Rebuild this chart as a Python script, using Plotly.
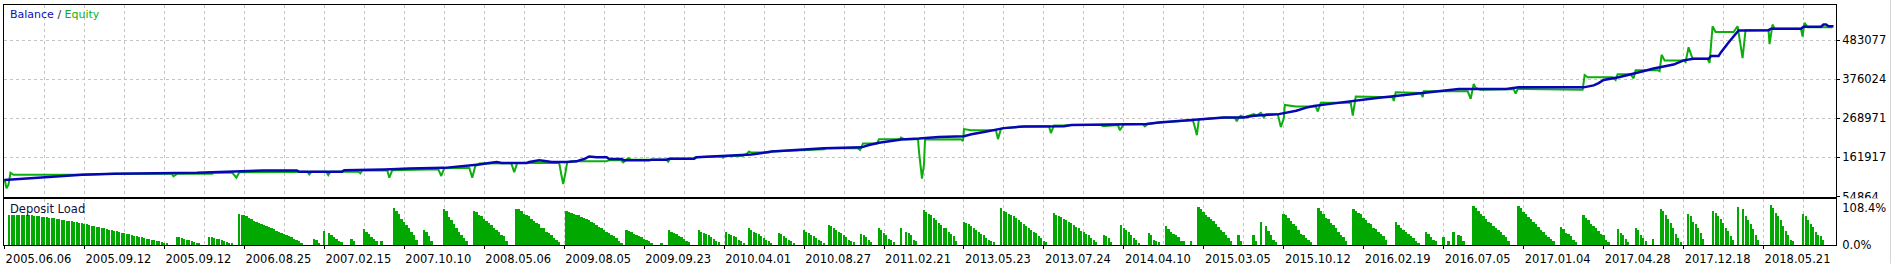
import plotly.graph_objects as go

# ---------------- data ----------------
date_labels = ["2005.06.06", "2005.09.12", "2005.09.12", "2006.08.25", "2007.02.15",
               "2007.10.10", "2008.05.06", "2009.08.05", "2009.09.23", "2010.04.01",
               "2010.08.27", "2011.02.21", "2013.05.23", "2013.07.24", "2014.04.10",
               "2015.03.05", "2015.10.12", "2016.02.19", "2016.07.05", "2017.01.04",
               "2017.04.28", "2017.12.18", "2018.05.21"]
label_deals = [32 * i for i in range(len(date_labels))]

y_ticks = [54864, 161917, 268971, 376024, 483077]
y_ticktext = ["54864", "161917", "268971", "376024", "483077"]

balance_deal = [0, 7, 14, 20, 26, 31, 44, 77, 92, 104, 117, 118, 135, 136, 152, 162, 176, 184,
                190, 194, 197, 199, 209, 210, 214, 217, 219, 225, 229, 230, 232, 234, 237, 241,
                242, 247, 248, 258, 259, 265, 266, 276, 277, 285, 294, 299, 307, 320, 328, 343,
                346, 350, 355, 359, 366, 374, 384, 387, 392, 398, 400, 408, 424, 427, 451, 457,
                462, 473, 478, 488, 496, 500, 510, 513, 517, 521, 524, 529, 534, 541, 545, 550,
                554, 560, 565, 569, 576, 582, 601, 606, 632, 636, 638, 640, 646, 650, 655, 660,
                663, 668, 672, 676, 682, 683, 686, 687, 690, 692, 694, 706, 707, 719, 720, 727,
                728, 729, 730, 732]
balance_value = [100400, 103800, 106500, 109200, 111900, 114500, 117200, 119900, 123600, 126300,
                 126300, 122600, 122600, 127100, 129000, 131700, 133300, 137800, 142400, 146700,
                 149300, 146700, 146700, 149300, 153900, 151200, 149300, 149300, 151200, 153900,
                 157400, 164600, 162700, 162700, 157400, 157400, 153900, 153900, 155800, 155800,
                 158400, 158400, 162700, 165400, 168100, 170000, 178000, 182500, 186800, 189500,
                 195900, 202100, 206600, 210900, 213600, 218100, 220000, 225300, 231500, 239500,
                 242200, 246800, 247600, 251000, 252100, 253700, 257500, 262800, 266300, 271600,
                 271600, 276200, 280500, 284200, 289600, 298400, 303000, 307200, 311800, 316300,
                 320600, 325200, 327900, 332400, 335900, 340400, 345800, 349300, 349300, 353800,
                 353800, 359200, 365300, 374200, 381400, 387500, 396600, 405500, 410000, 416200,
                 427700, 432200, 432200, 439500, 439500, 450200, 476900, 494600, 509800, 510600,
                 514400, 514400, 519700, 519700, 525900, 525900, 521300, 521300]

equity_deal = [0, 0.8, 1.6, 2.4, 3.6, 29.6, 44, 67, 67.6, 69.2, 83.2, 83.6, 91.2, 92.8, 94, 103.6,
               116.8, 118.8, 121.2, 122, 122.8, 128.8, 129.6, 130.4, 134.8, 135.2, 141.6, 142.4,
               143.2, 153.2, 154, 155.2, 173.6, 174.8, 176, 186, 187.2, 188.4, 190, 202.8, 204,
               205.2, 222, 222.8, 223.6, 224.4, 225.2, 226.8, 240.8, 242, 246.8, 247.6, 249.6,
               250.8, 264.8, 265.6, 266.4, 275.6, 276.4, 286.8, 287.6, 288.4, 294.8, 295.6, 297.2,
               298, 298.8, 306, 306.8, 320, 328, 328.8, 341.6, 342.4, 343.6, 349.2, 350, 358.4,
               358.8, 360, 365.6, 366, 367.2, 368, 368.4, 382.8, 383.6, 384, 386.8, 396.8, 397.6,
               398.8, 399.6, 408, 418, 418.8, 420, 424, 427, 438.8, 439.6, 445.6, 446.4, 448,
               455.6, 456.4, 457.6, 462, 473, 475.6, 476.4, 477.2, 478, 488, 492.4, 493.2, 494,
               494.8, 496, 500, 501, 502.8, 504, 505, 509.6, 510.8, 512, 512.4, 516.8, 524.8,
               525.6, 526.8, 538.8, 539.6, 540.8, 555.6, 556, 556.8, 566.8, 567.6, 568, 585.6,
               586.8, 588, 588.8, 590.8, 604, 604.8, 605.6, 630.8, 631.6, 632.4, 633.6, 643.6,
               644.8, 645.6, 650.8, 652, 652.8, 661.6, 662.4, 663.2, 664.4, 672, 672.8, 674,
               675.6, 681.6, 682.4, 683.6, 684.8, 692, 693.6, 694.8, 695.6, 696.8, 706, 706.4,
               707.6, 708.4, 719, 719.6, 720.4, 721.6, 731.6]
equity_value = [103000, 77100, 87000, 119900, 114500, 114500, 117200, 117200, 110300, 117200,
                117200, 119900, 119900, 106500, 121000, 121800, 121800, 122600, 122600, 115600,
                122600, 122600, 113700, 122600, 122600, 123100, 123100, 118300, 126300, 126300,
                106500, 127100, 129800, 111100, 132500, 133800, 106500, 137800, 145100, 145900,
                121800, 146700, 146700, 116400, 88900, 116400, 148500, 151200, 151200, 153900,
                153900, 148500, 160000, 155800, 155800, 150400, 158400, 158400, 162700, 165400,
                161100, 165400, 168100, 166500, 172600, 178000, 175300, 175300, 178000, 182500,
                184100, 186800, 186800, 182500, 200200, 200200, 212000, 212000, 216300, 212000,
                212000, 178000, 103800, 143200, 210900, 212000, 206600, 239500, 236100, 236100,
                212000, 240300, 242200, 246800, 247600, 228800, 249400, 249400, 251000, 251000,
                247600, 251000, 236100, 253700, 252900, 246800, 253700, 257500, 262800, 263600,
                244900, 222700, 266300, 271600, 270800, 260900, 271600, 276200, 271600, 280500,
                276200, 284200, 271600, 280500, 280500, 244900, 269000, 305600, 301100, 301100,
                287700, 311800, 311800, 276200, 328700, 327000, 316300, 340400, 338600, 327000,
                343100, 343100, 322500, 363400, 351900, 347400, 349300, 336700, 349300, 349300,
                347400, 387500, 381400, 381400, 374200, 389400, 389400, 378700, 400900, 400900,
                398200, 442900, 427700, 427700, 423400, 463500, 432200, 432200, 420700, 521300,
                505300, 505300, 521300, 470000, 434100, 510600, 510600, 472400, 525900, 514400,
                514400, 493000, 530400, 518700, 518700]

# deposit load (%) : (first deal of the run, loads of consecutive deals)
load_groups = [
    (2, [86, 86, 86, 86, 86, 86, 86, 86, 86, 86, 85, 84, 83, 82, 81, 80, 79, 78, 77, 75, 74, 73,
         72, 70, 69, 68, 66, 65, 63, 62, 60, 59, 57, 56, 54, 53, 51, 49, 48, 46, 44, 42, 41, 39,
         37, 35, 33, 31, 30, 28, 26, 24, 22, 21, 19, 17, 15, 14, 12, 10, 9, 7, 6, 5]),
    (69, [21, 21, 19, 17, 14, 12, 10, 8, 5, 3]),
    (82, [21, 21, 19, 17, 15, 12, 10, 8, 5, 3]),
    (94, [90, 87, 86, 84, 78, 74, 69, 66, 62, 60, 57, 55, 52, 48, 46, 41, 38, 33, 31, 28, 24, 22,
          16, 12, 10, 5]),
    (124, [16, 12, 5]),
    (128, [40, 0, 34, 28, 22, 16, 11, 8]),
    (139, [17, 10]),
    (144, [46, 36, 31, 22, 16, 11, 0, 11]),
    (156, [109, 100, 90, 76, 66, 58, 48, 36, 28, 14]),
    (168, [43, 36, 24, 11]),
    (176, [106, 100, 81, 71, 59, 48, 36, 28, 20, 11]),
    (188, [100, 95, 86, 83, 74, 69, 62, 57, 50, 43, 38, 28, 24, 11]),
    (205, [106, 104, 100, 90, 87, 83, 76, 69, 62, 59, 50, 48, 38, 33, 28, 19, 14, 8]),
    (225, [100, 97, 93, 90, 87, 86, 81, 78, 74, 71, 67, 62, 57, 52, 48, 43, 38, 33, 28, 24, 19,
           11, 5]),
    (249, [43, 40, 38, 30, 28, 24, 21, 17, 13, 9, 5]),
    (263, [5]),
    (266, [43, 38, 33, 30, 24, 21, 16, 11, 8]),
    (278, [43, 38, 33, 30, 27, 22, 16, 11, 8]),
    (289, [36, 30, 28, 24, 21, 14, 11, 5]),
    (298, [48, 43, 38, 33, 30, 26, 20, 14, 10, 5]),
    (310, [33, 30, 24, 19, 14, 11, 5]),
    (320, [43, 36, 33, 28, 24, 19, 14, 10, 5]),
    (330, [57, 54, 48, 43, 38, 35, 27, 22, 14, 11, 8]),
    (343, [31, 27, 21, 14, 8]),
    (350, [49, 43, 33, 28, 16, 14, 8]),
    (359, [49, 0, 38, 33, 27, 14, 11]),
    (368, [103, 97, 90, 86, 78, 71, 62, 57, 50, 48, 36, 30, 24, 11]),
    (384, [67, 64, 59, 54, 48, 43, 36, 30, 28, 19, 14, 11, 8]),
    (399, [109, 100, 97, 90, 87, 83, 78, 71, 67, 59, 54, 48, 43, 38, 33, 24, 19, 11, 8]),
    (420, [93, 87, 84, 81, 76, 71, 67, 62, 57, 52, 48, 40, 36, 30, 27, 19, 14, 8]),
    (440, [28, 24, 19, 8]),
    (447, [57, 48, 43, 36, 28, 19, 12, 5]),
    (458, [33, 27, 14, 11, 8]),
    (465, [54, 46, 38, 30, 27, 21, 11, 10]),
    (475, [11]),
    (478, [111, 106, 97, 87, 81, 76, 69, 59, 52, 43, 38, 28, 19, 11]),
    (494, [28, 11]),
    (500, [27, 11]),
    (503, [65, 0, 55, 40, 28, 14, 8]),
    (512, [90, 86, 78, 69, 59, 54, 43, 30, 27, 19, 14, 8]),
    (526, [109, 100, 90, 78, 74, 62, 57, 48, 36, 28, 21, 10]),
    (540, [104, 100, 93, 90, 78, 71, 62, 59, 49, 46, 36, 30, 24, 14]),
    (557, [65, 57, 48, 43, 36, 30, 24, 19, 11, 5]),
    (569, [36, 30, 21, 14, 10]),
    (576, [21, 0, 11, 0, 36, 0, 28, 24, 11]),
    (588, [114, 109, 100, 90, 84, 76, 67, 62, 54, 48, 42, 36, 28, 21, 11]),
    (606, [114, 109, 97, 90, 81, 74, 67, 59, 52, 43, 36, 28, 21, 16, 10]),
    (623, [52, 46, 35, 30, 24, 14, 8]),
    (632, [86, 78, 73, 59, 55, 48, 40, 30, 27, 14, 8]),
    (646, [46, 33, 27, 16, 8]),
    (653, [48, 43, 27, 20, 11]),
    (660, [16]),
    (663, [104, 100, 86, 74, 62, 50, 30, 19, 8]),
    (674, [90, 84, 67, 59, 48, 33, 17]),
    (684, [100, 93, 85, 74, 62, 50, 40, 26, 14]),
    (694, [111, 0, 106, 85, 71, 59, 47, 28, 14]),
    (707, [117, 109, 93, 85, 71, 55, 40, 28, 14, 10]),
    (720, [90, 84, 71, 59, 52, 38, 28, 24, 14]),
]

load_ticks = [0, 108.4]
load_ticktext = ["0.0%", "108.4%"]

load_x, load_y = [], []
for start, loads in load_groups:
    for i, v in enumerate(loads):
        if v > 0:
            load_x.append(start + i)
            load_y.append(v)

# ---------------- styling ----------------
W, H = 1893, 269
ML, MR, MT, MB = 3, 57, 5, 19
PH = H - MT - MB
XR = [-0.2, -0.2 + (W - ML - MR) / 2.5]

BLUE = "#0606b4"
GREEN = "#0cae0c"
GRID = "#c4c4c4"
FONT = "DejaVu Sans"


def py(px_from_top):
    return (H - MB - px_from_top) / PH


fig = go.Figure()
fig.add_trace(go.Scatter(x=equity_deal, y=equity_value, mode="lines",
                         line=dict(color=GREEN, width=2), xaxis="x", yaxis="y",
                         name="Equity", showlegend=False))
fig.add_trace(go.Scatter(x=balance_deal, y=balance_value, mode="lines",
                         line=dict(color=BLUE, width=2.5), xaxis="x", yaxis="y",
                         name="Balance", showlegend=False))
fig.add_trace(go.Bar(x=load_x, y=load_y, width=0.7, marker=dict(color="#00a800", line=dict(width=0)),
                     xaxis="x2", yaxis="y2", name="Deposit Load", showlegend=False))

axis_common = dict(showline=True, linecolor="black", linewidth=1, mirror=True, zeroline=False)

fig.update_layout(
    width=W, height=H,
    margin=dict(l=ML, r=MR, t=MT, b=MB, pad=0),
    paper_bgcolor="white", plot_bgcolor="white",
    font=dict(family=FONT, size=11, color="black"),
    bargap=0,
    xaxis=dict(domain=[0, 1], range=XR, anchor="y", tickmode="linear", tick0=0, dtick=16,
               showticklabels=False, ticks="", showgrid=True, gridcolor=GRID, gridwidth=1,
               griddash="3px,3px", **axis_common),
    yaxis=dict(domain=[py(200.5), 1], range=[54864, 54864 + 196 * 2676.3], anchor="x",
               side="right", tickmode="array", tickvals=y_ticks, ticktext=y_ticktext,
               ticks="outside", ticklen=3, tickcolor="black", showgrid=True, gridcolor=GRID,
               gridwidth=1, griddash="3px,3px", tickfont=dict(family=FONT, size=11.5, color="black"),
               **axis_common),
    xaxis2=dict(domain=[0, 1], range=XR, anchor="y2", tickmode="array", tickvals=label_deals,
                ticktext=date_labels, ticks="outside", ticklen=3, tickcolor="black",
                ticklabelshift=34, showgrid=True, gridcolor=GRID, gridwidth=1, griddash="3px,3px",
                minor=dict(tickmode="linear", tick0=0, dtick=16, showgrid=True, gridcolor=GRID,
                           gridwidth=1, griddash="3px,3px", ticks=""),
                tickfont=dict(family=FONT, size=11.5, color="black"), **axis_common),
    yaxis2=dict(domain=[0, py(203.5)], range=[0, 134], anchor="x2", side="right",
                tickmode="array", tickvals=load_ticks, ticktext=load_ticktext, ticks="outside",
                ticklen=3, tickcolor="rgba(0,0,0,0)", showgrid=False,
                tickfont=dict(family=FONT, size=11.5, color="black"), **axis_common),
    annotations=[
        dict(xref="paper", yref="paper", x=(7 - ML) / (W - ML - MR), y=py(15), xanchor="left",
             yanchor="middle", showarrow=False, font=dict(family=FONT, size=11),
             text='<span style="color:#1010b0">Balance</span> <span style="color:#303030">/</span> '
                  '<span style="color:#10b010">Equity</span>'),
        dict(xref="paper", yref="paper", x=(7 - ML) / (W - ML - MR), y=py(213), xanchor="left",
             yanchor="middle", showarrow=False, font=dict(family=FONT, size=11.5, color="#10103a"),
             text="Deposit Load"),
    ],
    shapes=[
        dict(type="rect", xref="paper", yref="paper", layer="above",
             x0=(1838.5 - ML) / (W - ML - MR), x1=(1888 - ML) / (W - ML - MR),
             y0=py(206.5), y1=py(202.2), fillcolor="white", line=dict(width=0)),
        dict(type="line", xref="paper", yref="paper", layer="above",
             x0=(1890.5 - ML) / (W - ML - MR), x1=(1890.5 - ML) / (W - ML - MR),
             y0=py(269), y1=py(0), line=dict(color="#d4d4d4", width=1)),
    ],
)

fig.write_html("out.html")
